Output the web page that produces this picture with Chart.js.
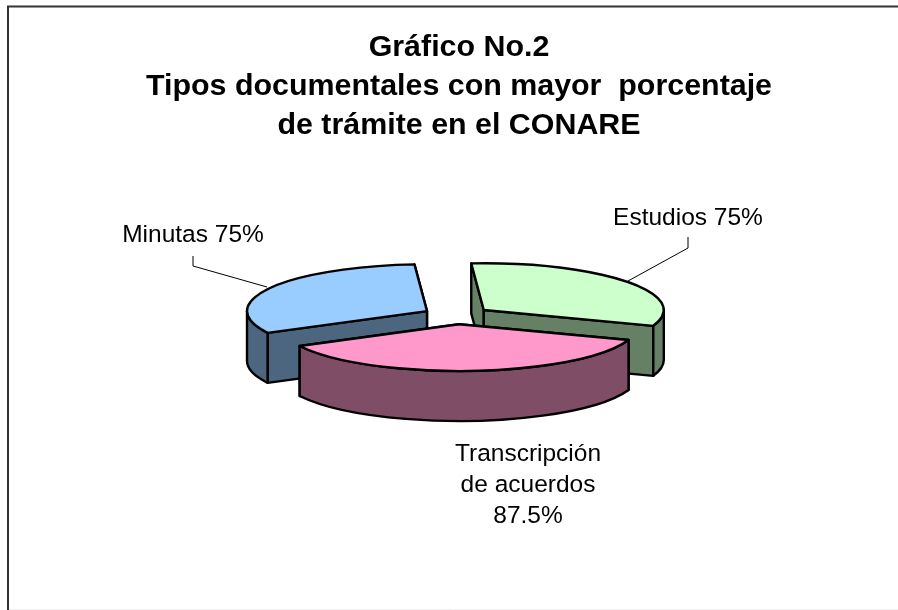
<!DOCTYPE html>
<html>
<head>
<meta charset="utf-8">
<style>
html,body{margin:0;padding:0;background:#fff;}
canvas{display:block;}
#wrap{position:relative;width:898px;height:610px;}
</style>
<script src="https://cdn.jsdelivr.net/npm/chart.js@4"></script>
</head>
<body>
<div id="wrap"><canvas id="c" width="898" height="610"></canvas></div>
<script>
const titleLines = ['Gráfico No.2', 'Tipos documentales con mayor  porcentaje', 'de trámite en el CONARE'];
const categories = [['Estudios'], ['Transcripción', 'de acuerdos'], ['Minutas']];
const values = [75, 87.5, 75];
const topColors = ['#CCFFCC', '#FF99CC', '#99CCFF'];
const wallColors = ['#668066', '#804D66', '#4D6680'];

// view settings for the tilted pie
const view = { cx: 456.7, cy: 315.4, squash: 0.26, depth: 50, explode: 34, radius: 180 };
// label anchors: [centre x, first baseline y, leader path]
const labelLayout = [
  { x: 688, y: 225, leader: [[688, 237], [688, 248], [628, 281]] },
  { x: 528, y: 460.5, leader: null, lineStep: 31 },
  { x: 193, y: 242, leader: [[193, 256], [193, 266], [267, 287]] }
];
const labelFont = '24.5px "Liberation Sans", Arial, sans-serif';

function placeArcs(chart) {
  const a = chart.chartArea;
  const cx0 = (a.left + a.right) / 2, cy0 = (a.top + a.bottom) / 2;
  const arcs = chart.getDatasetMeta(0).data;
  arcs.forEach(el => {
    const mid = (el.startAngle + el.endAngle) / 2;
    el.x = cx0 + Math.cos(mid) * view.explode;
    el.y = cy0 + Math.sin(mid) * view.explode;
  });
  return { cx0, cy0, arcs };
}
function toScreen(el, p) {
  return {
    x: view.cx + (el.x - p.cx0),
    y: view.cy + (el.y - p.cy0) * view.squash
  };
}
const tiltPlugin = {
  id: 'tilt',
  beforeDatasetsDraw(chart) {
    const ctx = chart.ctx;
    const p = placeArcs(chart);
    const rx = view.radius, ry = view.radius * view.squash, d = view.depth;
    // walls, back to front
    const order = p.arcs.map((el, i) => i).sort((i, j) => {
      const s = k => Math.sin((p.arcs[k].startAngle + p.arcs[k].endAngle) / 2);
      return s(i) - s(j);
    });
    ctx.save();
    ctx.lineWidth = 2.4;
    ctx.strokeStyle = '#000';
    ctx.lineJoin = 'round';
    order.forEach(i => {
      const el = p.arcs[i];
      const c = toScreen(el, p);
      ctx.fillStyle = wallColors[i];
      const rim = t => ({ x: c.x + Math.cos(t) * rx, y: c.y + Math.sin(t) * ry });
      const faces = [el.startAngle, el.endAngle]
        .sort((u, v) => Math.sin(u) - Math.sin(v));
      faces.forEach(t => {
        const q = rim(t);
        ctx.beginPath();
        ctx.moveTo(c.x, c.y);
        ctx.lineTo(q.x, q.y);
        ctx.lineTo(q.x, q.y + d);
        ctx.lineTo(c.x, c.y + d);
        ctx.closePath();
        ctx.fill();
        ctx.stroke();
      });
      for (let k = -1; k <= 1; k++) {
        const lo = Math.max(el.startAngle, 2 * Math.PI * k);
        const hi = Math.min(el.endAngle, Math.PI + 2 * Math.PI * k);
        if (hi <= lo) continue;
        ctx.beginPath();
        ctx.ellipse(c.x, c.y, rx, ry, 0, lo, hi);
        ctx.ellipse(c.x, c.y + d, rx, ry, 0, hi, lo, true);
        ctx.closePath();
        ctx.fill();
        ctx.stroke();
      }
    });
    ctx.restore();
    // tilt the library's own arcs
    ctx.save();
    ctx.translate(view.cx - p.cx0, view.cy);
    ctx.scale(1, view.squash);
    ctx.translate(0, -p.cy0);
  },
  afterDatasetsDraw(chart) {
    const ctx = chart.ctx;
    ctx.restore();
    const p = placeArcs(chart);
    ctx.save();
    ctx.lineWidth = 2.4;
    ctx.strokeStyle = '#000';
    ctx.lineJoin = 'round';
    p.arcs.forEach(el => {
      const c = toScreen(el, p);
      ctx.beginPath();
      ctx.moveTo(c.x, c.y);
      ctx.ellipse(c.x, c.y, view.radius, view.radius * view.squash, 0, el.startAngle, el.endAngle);
      ctx.closePath();
      ctx.stroke();
    });
    ctx.restore();
  },
  afterDraw(chart) {
    const ctx = chart.ctx;
    ctx.save();
    // frame
    ctx.strokeStyle = '#333';
    ctx.lineWidth = 2;
    ctx.beginPath();
    ctx.moveTo(8, 610);
    ctx.lineTo(8, 6.5);
    ctx.lineTo(898, 6.5);
    ctx.stroke();
    ctx.strokeStyle = '#eee';
    ctx.lineWidth = 1;
    ctx.beginPath();
    ctx.moveTo(9, 609.5);
    ctx.lineTo(898, 609.5);
    ctx.stroke();
    // labels and leaders
    ctx.fillStyle = '#000';
    ctx.font = labelFont;
    ctx.textAlign = 'center';
    ctx.textBaseline = 'alphabetic';
    categories.forEach((cat, i) => {
      const l = labelLayout[i];
      if (l.leader) {
        ctx.strokeStyle = '#000';
        ctx.lineWidth = 1;
        ctx.beginPath();
        l.leader.forEach((pt, n) => n ? ctx.lineTo(pt[0], pt[1]) : ctx.moveTo(pt[0], pt[1]));
        ctx.stroke();
        ctx.fillText(cat.join(' ') + ' ' + values[i] + '%', l.x, l.y);
      } else {
        const lines = cat.concat([values[i] + '%']);
        lines.forEach((t, n) => ctx.fillText(t, l.x, l.y + n * l.lineStep));
      }
    });
    ctx.restore();
  }
};
new Chart(document.getElementById('c'), {
  type: 'pie',
  data: {
    labels: categories.map(c => c.join(' ')),
    datasets: [{
      data: values,
      backgroundColor: topColors,
      borderWidth: 0,
      clip: false
    }]
  },
  plugins: [tiltPlugin],
  options: {
    responsive: false,
    animation: false,
    rotation: -4,
    radius: view.radius,
    layout: { padding: { left: 20, top: 28 } },
    plugins: {
      legend: { display: false },
      tooltip: { enabled: false },
      title: {
        display: true,
        text: titleLines,
        color: '#000',
        font: { family: '"Liberation Sans", Arial, sans-serif', size: 30.4, weight: 'bold', lineHeight: 1.28 },
        padding: 0
      }
    }
  }
});
</script>
</body>
</html>
